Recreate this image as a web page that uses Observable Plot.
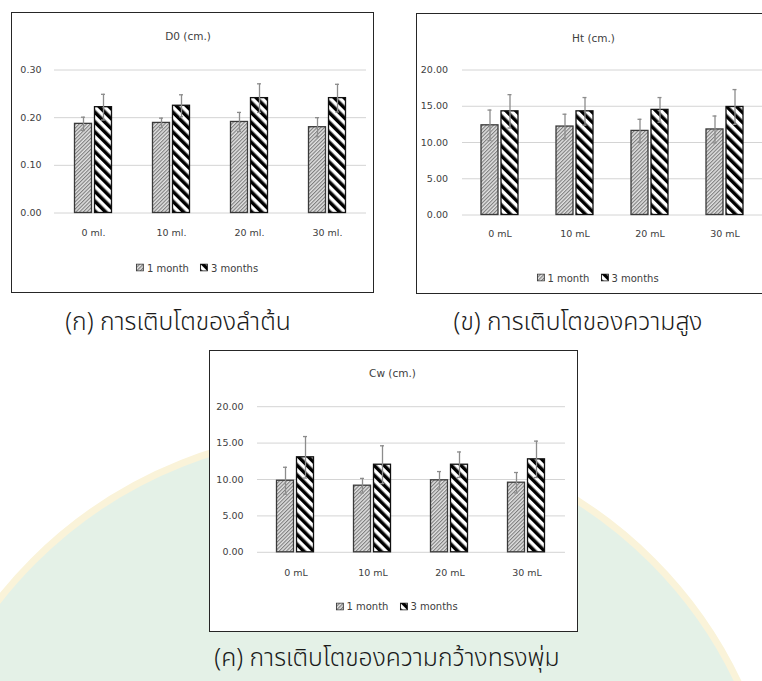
<!DOCTYPE html>
<html>
<head>
<meta charset="utf-8">
<script src="https://cdn.jsdelivr.net/npm/d3@7"></script>
<script src="https://cdn.jsdelivr.net/npm/@observablehq/plot@0.6"></script>
<style>
  html, body { margin: 0; padding: 0; }
  body {
    width: 762px; height: 681px; overflow: hidden; position: relative;
    background: #fff; font-family: "DejaVu Sans", sans-serif; color: #404040;
  }
  .seal {
    position: absolute; left: -98px; top: 429px; width: 882px; height: 882px;
    border-radius: 50%; box-sizing: border-box;
    background: #e4f1e7; border: 7px solid #faf3d9;
  }
  .panel {
    position: absolute; box-sizing: border-box; background: #fff;
    border: 1.5px solid #262626; overflow: hidden;
  }
  .panel svg.plot { position: absolute; left: 0; overflow: visible; }
  .title {
    position: absolute; font-size: 10.5px; white-space: nowrap;
    transform: translate(-50%, -50%); color: #404040;
  }
  .legend {
    position: absolute; font-size: 10px; white-space: nowrap;
    transform: translate(-50%, -50%); display: flex; align-items: center; gap: 3px;
  }
  .legend .item { display: flex; align-items: center; gap: 3px; margin-right: 8px; }
  .legend .item:last-child { margin-right: 0; }
  .caption {
    position: absolute; font-size: 24.7px; font-weight: 300; white-space: nowrap; color: #1a1a1a;
    transform: translate(-50%, -50%);
    font-family: "Noto Sans Thai", "Noto Sans", "DejaVu Sans", sans-serif;
  }
</style>
</head>
<body>
<svg width="0" height="0" style="position:absolute">
  <defs>
    <pattern id="hatch-fine" width="2.6" height="2.6" patternUnits="userSpaceOnUse" patternTransform="rotate(45)">
      <rect width="2.6" height="2.6" fill="#e2e2e2"></rect>
      <rect width="1.1" height="2.6" fill="#7d7d7d"></rect>
    </pattern>
    <pattern id="hatch-bold" width="7" height="7" patternUnits="userSpaceOnUse" patternTransform="rotate(-45)">
      <rect width="7" height="7" fill="#ffffff"></rect>
      <rect width="3.5" height="7" fill="#000000"></rect>
    </pattern>
  </defs>
</svg>
<div class="seal"></div>
<div id="root"></div>
<script>
// Growth at four dose levels, measured after 1 month and after 3 months
const periods = ["1 month", "3 months"];
const dosesMl = ["0 ml.", "10 ml.", "20 ml.", "30 ml."];
const dosesML = ["0 mL", "10 mL", "20 mL", "30 mL"];

// Stem diameter D0 (cm.)
const d0Month1 = [0.187, 0.189, 0.191, 0.180];
const d0Month1Err = [0.014, 0.010, 0.020, 0.020];
const d0Month3 = [0.222, 0.225, 0.241, 0.241];
const d0Month3Err = [0.027, 0.023, 0.030, 0.029];

// Height Ht (cm.)
const htMonth1 = [12.37, 12.20, 11.60, 11.80];
const htMonth1Err = [2.10, 1.70, 1.60, 1.85];
const htMonth3 = [14.30, 14.30, 14.50, 14.90];
const htMonth3Err = [2.30, 1.90, 1.70, 2.40];

// Crown width Cw (cm.)
const cwMonth1 = [9.83, 9.15, 9.89, 9.56];
const cwMonth1Err = [1.85, 1.00, 1.20, 1.40];
const cwMonth3 = [13.05, 12.03, 12.03, 12.77];
const cwMonth3Err = [2.85, 2.60, 1.75, 2.50];

const d0Ticks = [0, 0.10, 0.20, 0.30];
const cmTicks = [0, 5, 10, 15, 20];

const captions = [
  "(ก) การเติบโตของลำต้น",
  "(ข) การเติบโตของความสูง",
  "(ค) การเติบโตของความกว้างทรงพุ่ม"
];

const fills = {"1 month": "url(#hatch-fine)", "3 months": "url(#hatch-bold)"};
const strokes = {"1 month": "#3a3a3a", "3 months": "#111111"};

function rowsOf(doses, m1, e1, m3, e3) {
  return doses.flatMap((dose, i) => [
    {dose, period: periods[0], value: m1[i], err: e1[i]},
    {dose, period: periods[1], value: m3[i], err: e3[i]}
  ]);
}

function barChart(cfg) {
  const rows = rowsOf(cfg.doses, cfg.m1, cfg.e1, cfg.m3, cfg.e3);
  const ticks = cfg.ticks;
  const errStroke = "#8c8c8c";
  return Plot.plot({
    width: cfg.width,
    height: cfg.height,
    marginLeft: cfg.marginLeft,
    marginRight: cfg.marginRight,
    marginTop: cfg.marginTop,
    marginBottom: cfg.marginBottom,
    style: {fontFamily: "DejaVu Sans, sans-serif", color: "#404040", background: "transparent", overflow: "visible"},
    fx: {domain: cfg.doses, padding: 0, axis: null, label: null},
    x: {domain: periods, paddingInner: 0.14, paddingOuter: 0.93, axis: null},
    y: {domain: [0, ticks[ticks.length - 1]], label: null},
    marks: [
      Plot.ruleY(ticks, {stroke: "#d4d4d4", strokeWidth: 1}),
      Plot.axisY(ticks, {tickSize: 0, tickPadding: cfg.yPad, tickFormat: d3.format(".2f"), fontSize: 9.5, fill: "#404040", label: null}),
      Plot.axisFx({anchor: "bottom", tickSize: 0, tickPadding: cfg.xPad, fontSize: 9.5, fill: "#404040", label: null}),
      ...periods.map(p => Plot.barY(rows.filter(d => d.period === p), {
        fx: "dose", x: "period", y: "value",
        fill: fills[p], stroke: strokes[p], strokeWidth: 1.3
      })),
      Plot.ruleX(rows, {fx: "dose", x: "period", y1: d => d.value - d.err, y2: d => d.value + d.err, stroke: errStroke, strokeWidth: 1.3}),
      Plot.tickY(rows, {fx: "dose", x: "period", y: d => d.value + d.err, insetLeft: 6.5, insetRight: 6.5, stroke: errStroke, strokeWidth: 1.3}),
      Plot.tickY(rows, {fx: "dose", x: "period", y: d => d.value - d.err, insetLeft: 6.5, insetRight: 6.5, stroke: errStroke, strokeWidth: 1.3})
    ]
  });
}

function swatch(period) {
  return `<svg width="8" height="8"><rect x="0.5" y="0.5" width="7" height="7" fill="${fills[period]}" stroke="${strokes[period]}" stroke-width="1"></rect></svg>`;
}

function panel(cfg) {
  const root = document.getElementById("root");
  const div = document.createElement("div");
  div.className = "panel";
  Object.assign(div.style, {left: cfg.left + "px", top: cfg.top + "px", width: cfg.boxWidth + "px", height: cfg.boxHeight + "px"});
  const inner = cfg.boxWidth - 3;

  const title = document.createElement("div");
  title.className = "title";
  title.textContent = cfg.title;
  Object.assign(title.style, {left: cfg.titleX + "px", top: cfg.titleY + "px"});
  div.appendChild(title);

  const svg = barChart({...cfg, width: inner});
  svg.classList.add("plot");
  svg.style.top = cfg.svgTop + "px";
  div.appendChild(svg);

  const legend = document.createElement("div");
  legend.className = "legend";
  legend.innerHTML = periods.map(p => `<span class="item">${swatch(p)}<span>${p}</span></span>`).join("");
  Object.assign(legend.style, {left: cfg.legendX + "px", top: cfg.legendY + "px"});
  div.appendChild(legend);

  root.appendChild(div);

  const cap = document.createElement("div");
  cap.className = "caption";
  cap.textContent = cfg.caption;
  Object.assign(cap.style, {left: cfg.capX + "px", top: cfg.capY + "px"});
  root.appendChild(cap);
}

panel({
  title: "D0 (cm.)", caption: captions[0],
  left: 11, top: 12, boxWidth: 363, boxHeight: 281,
  titleX: 176, titleY: 22.5, legendX: 185, legendY: 254.5,
  svgTop: 40, height: 189.5, marginLeft: 40.5, marginRight: 5.5, marginTop: 16.5, marginBottom: 30,
  yPad: 13, xPad: 16.5,
  doses: dosesMl, ticks: d0Ticks,
  m1: d0Month1, e1: d0Month1Err, m3: d0Month3, e3: d0Month3Err,
  capX: 178, capY: 322
});

panel({
  title: "Ht (cm.)", caption: captions[1],
  left: 416, top: 13, boxWidth: 360, boxHeight: 281,
  titleX: 176.5, titleY: 23.5, legendX: 180.5, legendY: 263.5,
  svgTop: 40, height: 190.5, marginLeft: 45, marginRight: 12, marginTop: 15.5, marginBottom: 30,
  yPad: 14.5, xPad: 15,
  doses: dosesML, ticks: cmTicks,
  m1: htMonth1, e1: htMonth1Err, m3: htMonth3, e3: htMonth3Err,
  capX: 578, capY: 322
});

panel({
  title: "Cw (cm.)", caption: captions[2],
  left: 209, top: 350, boxWidth: 369, boxHeight: 282,
  titleX: 182.5, titleY: 21.5, legendX: 186.5, legendY: 255,
  svgTop: 40, height: 190.8, marginLeft: 46.5, marginRight: 11.5, marginTop: 15.2, marginBottom: 30,
  yPad: 14, xPad: 17.3,
  doses: dosesML, ticks: cmTicks,
  m1: cwMonth1, e1: cwMonth1Err, m3: cwMonth3, e3: cwMonth3Err,
  capX: 387, capY: 658
});
</script>
</body>
</html>
